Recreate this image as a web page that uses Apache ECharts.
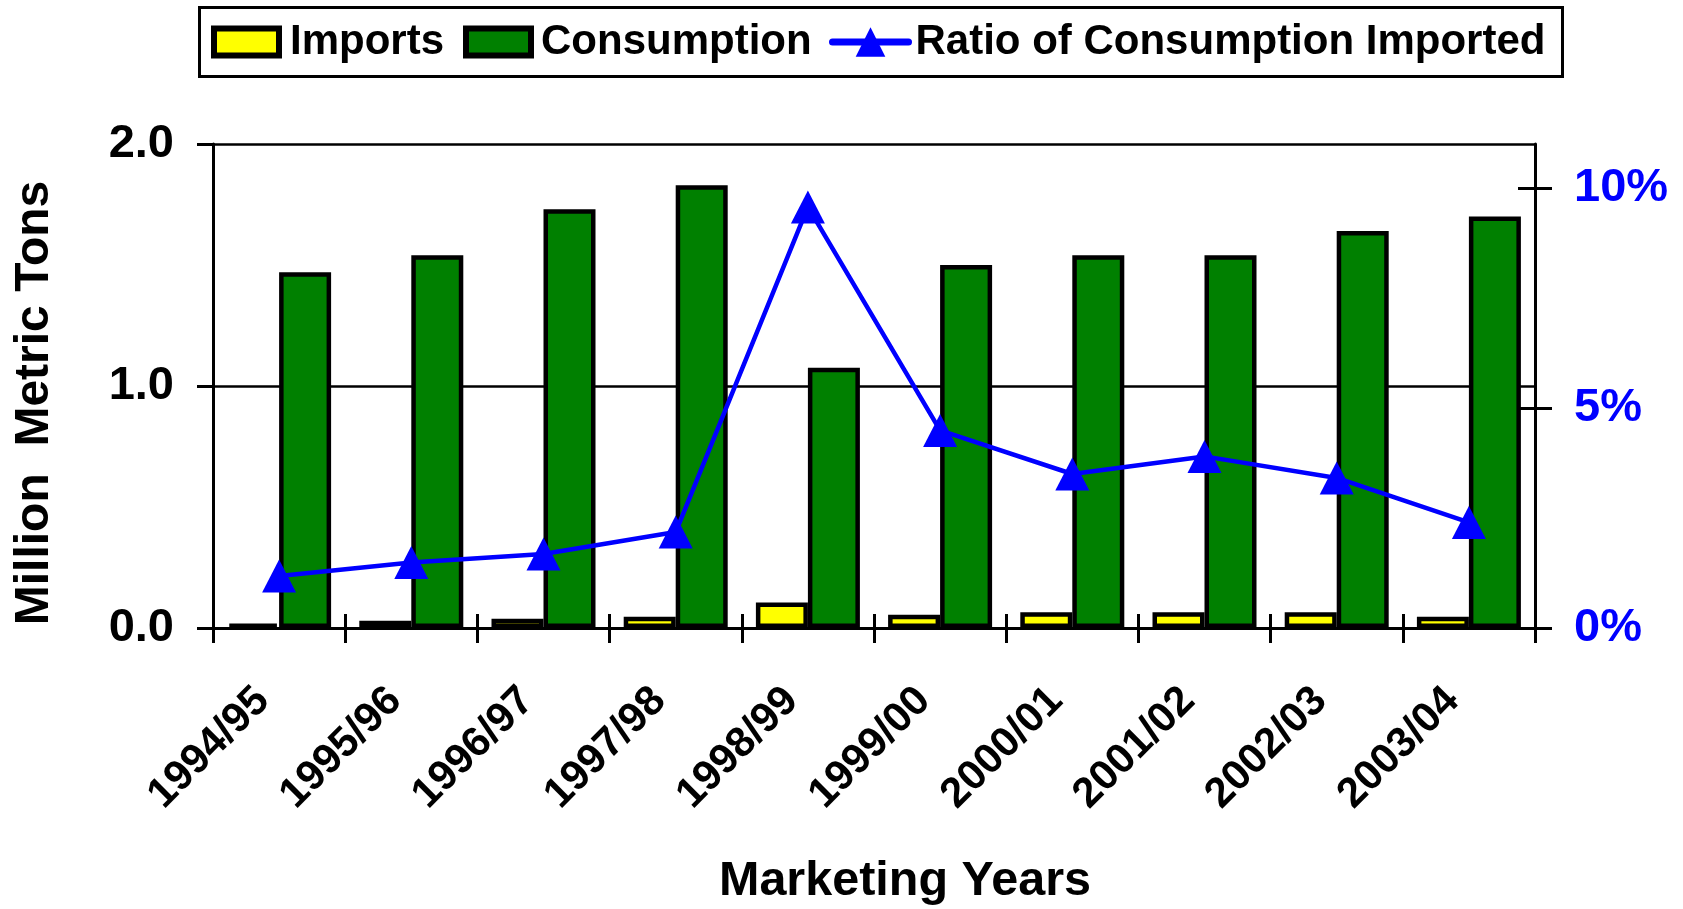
<!DOCTYPE html>
<html><head><meta charset="utf-8">
<script src="https://cdn.jsdelivr.net/npm/echarts@6/dist/echarts.min.js"></script>
<style>html,body{margin:0;padding:0;background:#fff}#c{width:1683px;height:909px}</style>
</head><body><div id="c"></div>
<script>
const categories = ['1994/95','1995/96','1996/97','1997/98','1998/99','1999/00','2000/01','2001/02','2002/03','2003/04'];
const imports = [0.018, 0.03, 0.038, 0.047, 0.105, 0.055, 0.065, 0.065, 0.065, 0.047];
const consumption = [1.47, 1.54, 1.73, 1.83, 1.075, 1.50, 1.54, 1.54, 1.64, 1.70];
const ratio = [1.18, 1.49, 1.68, 2.18, 9.57, 4.49, 3.50, 3.90, 3.41, 2.40];
const leftTicks = [0, 1, 2];
const rightTicks = [0, 5, 10];

const FONT = "'Liberation Sans', Arial, Helvetica, sans-serif";
const chart = echarts.init(document.getElementById('c'), null, {renderer: 'canvas'});
const legendText = {fontFamily: FONT, fontWeight: 'bold', fontSize: 42, color: '#000'};
const option = {
  animation: false,
  backgroundColor: '#fff',
  grid: {left: 213, right: 148, top: 144, bottom: 281, containLabel: false},
  legend: [
    {data: ['Imports'], left: 211, top: 21, padding: 0, icon: 'rect', itemWidth: 65, itemHeight: 27,
     itemStyle: {borderWidth: 6, borderColor: '#000'}, textStyle: Object.assign({padding: [13, 0, 0, 6]}, legendText)},
    {data: ['Consumption'], left: 463, top: 21, padding: 0, icon: 'rect', itemWidth: 65, itemHeight: 27,
     itemStyle: {borderWidth: 6, borderColor: '#000'}, textStyle: Object.assign({padding: [13, 0, 0, 5]}, legendText)},
    {data: ['Ratio of Consumption Imported'], left: 829, top: 21, padding: 0, itemWidth: 76, itemHeight: 37,
     lineStyle: {width: 7, cap: 'round'}, textStyle: Object.assign({padding: [13, 0, 0, 2]}, legendText)}
  ],
  graphic: [
    {type: 'rect', shape: {x: 199.5, y: 7.5, width: 1363, height: 69}, style: {fill: 'none', stroke: '#000', lineWidth: 3}, z: 10},
    {type: 'text', x: 35, y: 403, rotation: Math.PI / 2,
     style: {text: 'Million  Metric Tons', font: "bold 48px " + FONT, fill: '#000', align: 'center', verticalAlign: 'middle'}},
    {type: 'text', x: 905, y: 882,
     style: {text: 'Marketing Years', font: "bold 48.5px " + FONT, fill: '#000', align: 'center', verticalAlign: 'middle'}}
  ],
  xAxis: [
    {type: 'category', data: categories, position: 'bottom',
     axisLine: {lineStyle: {color: '#000', width: 3}},
     axisTick: {show: true, inside: false, length: 15, alignWithLabel: false, lineStyle: {color: '#000', width: 3}},
     axisLabel: {interval: 0, rotate: 45, margin: 50, padding: [0, 23, 0, 0], fontFamily: FONT, fontWeight: 'bold', fontSize: 42, color: '#000'}},
    {type: 'category', data: categories, position: 'bottom',
     axisLine: {show: false},
     axisTick: {show: true, inside: true, length: 14, alignWithLabel: false, lineStyle: {color: '#000', width: 3}},
     axisLabel: {show: false}}
  ],
  yAxis: [
    {type: 'value', min: 0, max: 2, interval: 1, position: 'left',
     axisLine: {show: true, lineStyle: {color: '#000', width: 3}},
     axisTick: {show: true, inside: false, length: 16, lineStyle: {color: '#000', width: 3}},
     splitLine: {show: true, lineStyle: {color: '#000', width: 2.5}},
     axisLabel: {margin: 39, fontFamily: FONT, fontWeight: 'bold', fontSize: 47, color: '#000',
                 customValues: leftTicks, formatter: v => v.toFixed(1)}},
    {type: 'value', min: 0, max: 11, interval: 5, position: 'right',
     axisLine: {show: true, lineStyle: {color: '#000', width: 3}},
     axisTick: {show: true, inside: false, length: 17, customValues: rightTicks, lineStyle: {color: '#000', width: 3}},
     splitLine: {show: false},
     axisLabel: {margin: 39, fontFamily: FONT, fontWeight: 'bold', fontSize: 47, color: '#0000FF',
                 customValues: rightTicks, formatter: v => v + '%'}},
    {type: 'value', min: 0, max: 11, interval: 5, position: 'right',
     axisLine: {show: false},
     axisTick: {show: true, inside: true, length: 17, customValues: rightTicks, lineStyle: {color: '#000', width: 3}},
     splitLine: {show: false},
     axisLabel: {show: false}}
  ],
  series: [
    {name: 'Imports', type: 'bar', data: imports, xAxisIndex: 0, yAxisIndex: 0, barWidth: 52, barGap: '0%',
     itemStyle: {color: '#FFFF00', borderColor: '#000', borderWidth: 4.5}},
    {name: 'Consumption', type: 'bar', data: consumption, xAxisIndex: 0, yAxisIndex: 0, barWidth: 52, barGap: '0%',
     itemStyle: {color: '#008000', borderColor: '#000', borderWidth: 4.5}},
    {name: 'Ratio of Consumption Imported', type: 'line', data: ratio, xAxisIndex: 0, yAxisIndex: 1,
     symbol: 'triangle', symbolSize: [34, 33], showAllSymbol: true,
     lineStyle: {color: '#0000FF', width: 4.5}, itemStyle: {color: '#0000FF'}, z: 5}
  ]
};
chart.setOption(option);
</script></body></html>
